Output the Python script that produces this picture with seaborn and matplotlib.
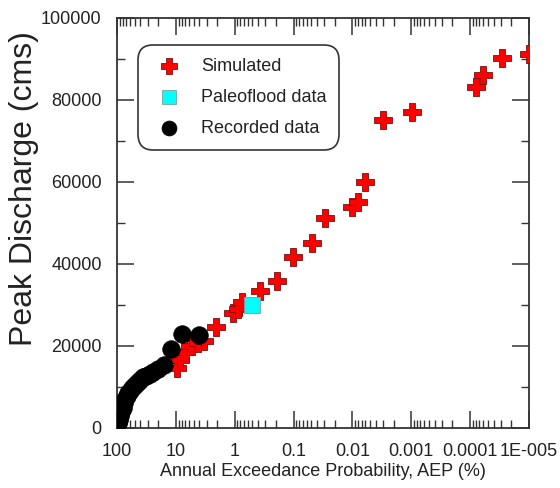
import matplotlib
matplotlib.use("Agg")
import matplotlib.pyplot as plt
import seaborn as sns
import pandas as pd
from matplotlib.ticker import FixedLocator, FixedFormatter, LogLocator, MultipleLocator, NullFormatter

#%% data

# simulated floods: AEP (%) and peak discharge (cms)
sim_aep = [9.5, 8.4, 6.7, 5.7, 4.2, 3.3, 2.05, 1.09, 0.87, 0.743, 0.366, 0.19,
           0.104, 0.0495, 0.0298, 0.0103, 0.0082, 0.0060, 0.00306, 0.00098,
           0.000080, 0.0000605, 0.0000287, 0.00001]
sim_q = [14700, 16600, 18600, 20000, 20800, 21300, 24700, 28100, 29100, 30800,
         33300, 35900, 41800, 45200, 51100, 53800, 55000, 59900, 75100, 77000,
         83100, 86100, 90200, 91200]

# paleoflood
paleo_aep = [0.50]
paleo_q = [30100]

# recorded annual maxima
rec_aep = [4, 8, 12, 16, 20, 24, 28, 32, 36, 40, 44, 48, 52, 56, 60, 64,
           68, 72, 76, 80, 84, 88, 92, 96]
rec_q = [22800, 23000, 19300, 15400, 14400, 13700, 13200, 12700, 12500, 11700,
         11200, 10800, 10300, 9800, 9000, 8600, 7800, 7100, 6100, 4900, 3900,
         2900, 2000, 1200]

xtick_vals = [100, 10, 1, 0.1, 0.01, 0.001, 0.0001, 0.00001]
xtick_labels = ["100", "10", "1", "0.1", "0.01", "0.001", "0.0001", "1E-005"]

df_sim = pd.DataFrame({"aep": sim_aep, "q": sim_q})
df_paleo = pd.DataFrame({"aep": paleo_aep, "q": paleo_q})
df_rec = pd.DataFrame({"aep": rec_aep, "q": rec_q})

#%% plot

sns.set_theme(style="ticks")
plt.rcParams["font.family"] = ["Liberation Sans", "DejaVu Sans"]
txt_col = "#222222"

fig = plt.figure(figsize=(5.6, 4.88), dpi=100)
ax = fig.add_axes([117 / 560, 60 / 488, 412 / 560, 410 / 488])

sns.scatterplot(data=df_sim, x="aep", y="q", marker="P", s=170, color="red",
                edgecolor="#7a1010", linewidth=0.6, label="Simulated", ax=ax, zorder=3)
sns.scatterplot(data=df_rec, x="aep", y="q", marker="o", s=160, color="black",
                edgecolor="black", linewidth=0.5, label="Recorded data", ax=ax, zorder=4)
sns.scatterplot(data=df_paleo, x="aep", y="q", marker="s", s=135, color="cyan",
                edgecolor="#7f9f9f", linewidth=0.6, label="Paleoflood data", ax=ax, zorder=5)

ax.set_xscale("log")
ax.set_xlim(100, 0.00001)
ax.set_ylim(0, 100000)

ax.xaxis.set_major_locator(FixedLocator(xtick_vals))
ax.xaxis.set_major_formatter(FixedFormatter(xtick_labels))
ax.xaxis.set_minor_locator(LogLocator(base=10, subs=range(2, 10), numticks=20))
ax.xaxis.set_minor_formatter(NullFormatter())
ax.yaxis.set_major_locator(MultipleLocator(20000))
ax.yaxis.set_minor_locator(MultipleLocator(10000))

ax.tick_params(which="both", direction="in", top=True, right=True,
               colors="#333333", labelcolor=txt_col, labelsize=13, pad=11)
ax.tick_params(which="major", length=12, width=1.1)
ax.tick_params(which="minor", length=6, width=1.0)
for sp in ax.spines.values():
    sp.set_color("#333333")
    sp.set_linewidth(1.3)

ax.set_xlabel("Annual Exceedance Probability, AEP (%)", fontsize=13,
              color=txt_col, labelpad=2)
ax.set_ylabel("Peak Discharge (cms)", fontsize=23, color=txt_col)
ax.yaxis.set_label_coords(-0.19, 0.585)

# legend order: Simulated, Paleoflood, Recorded
h, l = ax.get_legend_handles_labels()
order = [l.index("Simulated"), l.index("Paleoflood data"), l.index("Recorded data")]
leg = ax.legend([h[i] for i in order], [l[i] for i in order],
                loc="upper left", bbox_to_anchor=(0.051, 0.934), borderaxespad=0,
                fontsize=13, frameon=True, fancybox=True, borderpad=0.7,
                labelspacing=0.78, handletextpad=0.8, markerscale=0.85)
for t in leg.get_texts():
    t.set_color(txt_col)
frame = leg.get_frame()
frame.set_edgecolor("#333333")
frame.set_linewidth(1.2)
frame.set_alpha(1)
frame.set_boxstyle("round", pad=0, rounding_size=0.85)

plt.savefig("out.png", dpi=100)
plt.close()
